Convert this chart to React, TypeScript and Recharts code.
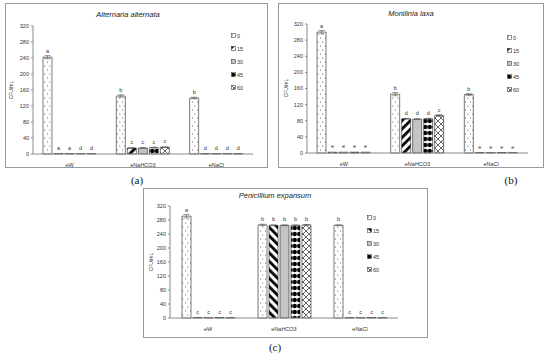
import React from 'react';
import { BarChart, Bar, XAxis, YAxis, LabelList, ErrorBar } from 'recharts';

const categories = ['eW', 'eNaHCO3', 'eNaCl'];
const times = ['0', '15', '30', '45', '60'];
const yTicks = [0, 40, 80, 120, 160, 200, 240, 280, 320];

// rows = time (0,15,30,45,60), columns = category
const altValues = [
  [242, 145, 140],
  [0, 15, 0],
  [0, 15, 0],
  [0, 16, 0],
  [0, 17, 0],
];
const altErrors = [
  [4, 3, 2],
  [0, 1, 0],
  [0, 1, 0],
  [0, 1, 0],
  [0, 1, 0],
];
const altLetters = [
  ['a', 'b', 'b'],
  ['a', 'c', 'd'],
  ['a', 'c', 'd'],
  ['d', 'c', 'd'],
  ['d', 'c', 'd'],
];

const monValues = [
  [300, 146, 145],
  [2, 85, 0],
  [2, 84, 0],
  [2, 85, 0],
  [2, 93, 0],
];
const monErrors = [
  [4, 4, 2],
  [0, 1, 0],
  [0, 1, 0],
  [0, 1, 0],
  [0, 2, 0],
];
const monLetters = [
  ['a', 'b', 'b'],
  ['e', 'd', 'e'],
  ['e', 'd', 'e'],
  ['e', 'd', 'e'],
  ['e', 'c', 'e'],
];

const penValues = [
  [291, 266, 265],
  [0, 265, 0],
  [0, 265, 0],
  [0, 265, 0],
  [0, 266, 0],
];
const penErrors = [
  [5, 2, 1],
  [0, 1, 0],
  [0, 1, 0],
  [0, 1, 0],
  [0, 1, 0],
];
const penLetters = [
  ['a', 'b', 'b'],
  ['c', 'b', 'c'],
  ['c', 'b', 'c'],
  ['c', 'b', 'c'],
  ['c', 'b', 'c'],
];

const buildRows = (values: number[][], errors: number[][], letters: string[][]) =>
  categories.map((name, i) => {
    const row: Record<string, any> = { name };
    times.forEach((_, t) => {
      row['v' + t] = values[t][i];
      row['e' + t] = errors[t][i];
      row['l' + t] = letters[t][i];
    });
    return row;
  });

const FONT = '"Liberation Sans", Arial, sans-serif';

const Patterns = () => (
  <svg width={0} height={0} style={{ position: 'absolute' }}>
    <defs>
      <pattern id="pDots" width={5} height={8} patternUnits="userSpaceOnUse">
        <rect width={5} height={8} fill="#fff" />
        <circle cx={1.5} cy={2} r={0.5} fill="#333" />
        <circle cx={3.8} cy={6} r={0.5} fill="#333" />
      </pattern>
      <pattern id="pFwd" width={6} height={6} patternUnits="userSpaceOnUse" patternTransform="rotate(45)">
        <rect width={6} height={6} fill="#fff" />
        <rect width={2.8} height={6} fill="#000" />
      </pattern>
      <pattern id="pBack" width={6} height={6} patternUnits="userSpaceOnUse" patternTransform="rotate(-45)">
        <rect width={6} height={6} fill="#fff" />
        <rect width={2.8} height={6} fill="#000" />
      </pattern>
      <pattern id="pGrey" width={2} height={2} patternUnits="userSpaceOnUse">
        <rect width={2} height={2} fill="#cfcfcf" />
        <circle cx={1} cy={1} r={0.45} fill="#7a7a7a" />
      </pattern>
      <pattern id="pDisk" width={4.5} height={6} patternUnits="userSpaceOnUse">
        <rect width={4.5} height={6} fill="#fff" />
        <circle cx={2.25} cy={3} r={2.2} fill="#000" />
      </pattern>
      <pattern id="pCross" width={6} height={6} patternUnits="userSpaceOnUse">
        <rect width={6} height={6} fill="#fff" />
        <path d="M0 0L6 6M6 0L0 6" stroke="#000" strokeWidth={0.6} />
      </pattern>
    </defs>
  </svg>
);

const panels = [
  {
    key: 'a',
    title: 'Alternaria alternata',
    rows: buildRows(altValues, altErrors, altLetters),
    fills: ['pDots', 'pFwd', 'pGrey', 'pDisk', 'pCross'],
    box: { left: 5, top: 3, width: 263, height: 165 },
    margin: { top: 22, right: 14, bottom: 1, left: 7 },
    titlePos: { x: 128, y: 15 },
    ylabel: { x: 11, y: 90 },
    legend: { x: 231, y: 29 },
    caption: { x: 137, y: 180, text: '(a)' },
  },
  {
    key: 'b',
    title: 'Monilinia laxa',
    rows: buildRows(monValues, monErrors, monLetters),
    fills: ['pDots', 'pFwd', 'pGrey', 'pDisk', 'pCross'],
    box: { left: 278, top: 3, width: 266, height: 165 },
    margin: { top: 20, right: 15, bottom: 2, left: 8 },
    titlePos: { x: 411, y: 14 },
    ylabel: { x: 286, y: 88 },
    legend: { x: 507, y: 31 },
    caption: { x: 511, y: 180, text: '(b)' },
  },
  {
    key: 'c',
    title: 'Penicillium expansum',
    rows: buildRows(penValues, penErrors, penLetters),
    fills: ['pDots', 'pBack', 'pGrey', 'pDisk', 'pCross'],
    box: { left: 143, top: 188, width: 285, height: 150 },
    margin: { top: 17, right: 29, bottom: 7, left: 6 },
    titlePos: { x: 275, y: 196 },
    ylabel: { x: 151, y: 262 },
    legend: { x: 367, y: 211 },
    caption: { x: 275, y: 347, text: '(c)' },
  },
];

const Panel = ({ p }: { p: (typeof panels)[number] }) => {
  const w = p.box.width - 2;
  const h = p.box.height - 2;
  return (
    <>
      <div
        style={{
          position: 'absolute',
          left: p.box.left,
          top: p.box.top,
          width: w,
          height: h,
          border: '1px solid #9a9a9a',
        }}
      >
        <BarChart
          width={w}
          height={h}
          data={p.rows}
          margin={p.margin}
          barSize={9}
          barGap={2}
        >
          <XAxis
            dataKey="name"
            height={12}
            tickLine={false}
            axisLine={{ stroke: '#8a8a8a' }}
            tick={{ fontSize: 5.5, fill: '#333', fontFamily: FONT }}
            tickMargin={3}
          />
          <YAxis
            width={20}
            domain={[0, 320]}
            ticks={yTicks}
            interval={0}
            tickSize={2}
            axisLine={{ stroke: '#8a8a8a' }}
            tickLine={{ stroke: '#8a8a8a' }}
            tick={{ fontSize: 5.5, fill: '#333', fontFamily: FONT }}
          />
          {times.map((t, i) => (
            <Bar
              key={t}
              dataKey={'v' + i}
              name={t}
              fill={`url(#${p.fills[i]})`}
              stroke="#222"
              strokeWidth={0.6}
              minPointSize={0.5}
              isAnimationActive={false}
            >
              <ErrorBar dataKey={'e' + i} width={3} stroke="#555" strokeWidth={0.6} />
              <LabelList
                dataKey={'l' + i}
                position="top"
                offset={4}
                fill="#333"
                fontSize={5.5}
                fontFamily={FONT}
              />
            </Bar>
          ))}
        </BarChart>
      </div>
      <div
        style={{
          position: 'absolute',
          left: p.titlePos.x - 60,
          top: p.titlePos.y - 5,
          width: 120,
          textAlign: 'center',
          fontFamily: FONT,
          fontStyle: 'italic',
          fontSize: 7.5,
          lineHeight: '10px',
          color: '#222',
        }}
      >
        {p.title}
      </div>
      <div
        style={{
          position: 'absolute',
          left: p.ylabel.x - 20,
          top: p.ylabel.y - 4,
          width: 40,
          textAlign: 'center',
          fontFamily: FONT,
          fontSize: 5,
          lineHeight: '8px',
          color: '#333',
          transform: 'rotate(-90deg)',
        }}
      >
        CFU/mL
      </div>
      <div style={{ position: 'absolute', left: p.legend.x, top: p.legend.y }}>
        {times.map((t, i) => (
          <div
            key={t}
            style={{
              display: 'flex',
              alignItems: 'center',
              height: 13,
              fontFamily: FONT,
              fontSize: 5.5,
              color: '#333',
            }}
          >
            <svg width={5} height={5} style={{ marginRight: 1 }}>
              <rect x={0.5} y={0.5} width={4} height={4} fill={`url(#${p.fills[i]})`} stroke="#222" strokeWidth={0.5} />
            </svg>
            {t}
          </div>
        ))}
      </div>
      <div
        style={{
          position: 'absolute',
          left: p.caption.x - 20,
          top: p.caption.y - 7,
          width: 40,
          textAlign: 'center',
          fontFamily: '"Liberation Serif", "Times New Roman", serif',
          fontSize: 11,
          lineHeight: '14px',
          color: '#111',
        }}
      >
        {p.caption.text}
      </div>
    </>
  );
};

const App = () => (
  <div style={{ position: 'absolute', left: 0, top: 0, width: 550, height: 357, background: '#fff', overflow: 'hidden' }}>
    <Patterns />
    {panels.map((p) => (
      <Panel key={p.key} p={p} />
    ))}
  </div>
);

export default App;
